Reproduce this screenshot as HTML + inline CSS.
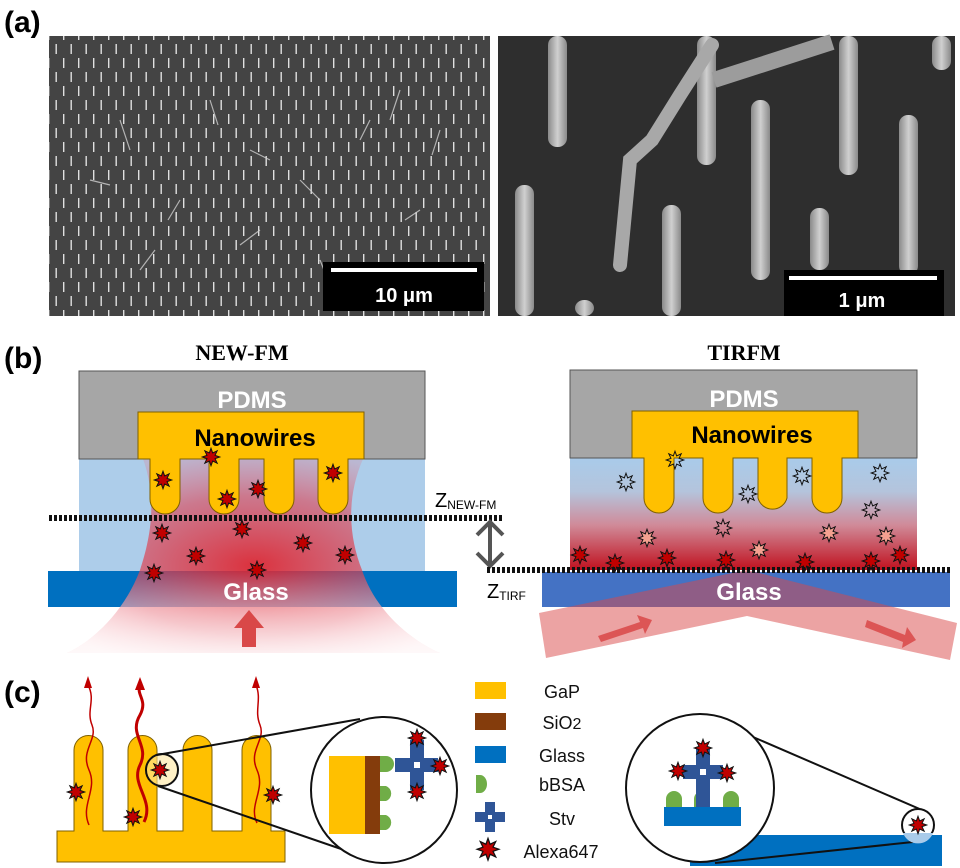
<!DOCTYPE html>
<html><head><meta charset="utf-8"><style>
html,body{margin:0;padding:0;background:#fff;}
svg{display:block;}
text{font-family:"Liberation Sans",sans-serif;}
</style></head><body>
<svg width="960" height="868" viewBox="0 0 960 868" xmlns="http://www.w3.org/2000/svg">
<defs>
<polygon id="st" transform="scale(1.25)" points="0,-7 1.34,-3.23 4.95,-4.95 3.23,-1.34 7,0 3.23,1.34 4.95,4.95 1.34,3.23 0,7 -1.34,3.23 -4.95,4.95 -3.23,1.34 -7,0 -3.23,-1.34 -4.95,-4.95 -1.34,-3.23" stroke="#111" stroke-width="0.8" stroke-linejoin="miter"/>
<pattern id="nw" width="15" height="28" patternUnits="userSpaceOnUse">
<rect width="15" height="28" fill="#444"/>
<rect x="3" y="2" width="1.4" height="10" fill="#e0e0e0"/>
<rect x="10.5" y="16" width="1.4" height="10" fill="#e0e0e0"/>
</pattern>
<linearGradient id="tirf" x1="0" y1="0" x2="0" y2="1">
<stop offset="0" stop-color="#a9cbea"/><stop offset="0.3" stop-color="#b4c4dc"/><stop offset="0.6" stop-color="#d08a98"/><stop offset="1" stop-color="#c0101e"/>
</linearGradient>
<radialGradient id="beam" cx="0.5" cy="0.55" r="0.6">
<stop offset="0" stop-color="#e0202a" stop-opacity="0.9"/><stop offset="0.6" stop-color="#e04050" stop-opacity="0.6"/><stop offset="1" stop-color="#f06070" stop-opacity="0.2"/>
</radialGradient>
<linearGradient id="beamfade" x1="0" y1="0" x2="0" y2="1">
<stop offset="0" stop-color="#fff" stop-opacity="0"/><stop offset="1" stop-color="#fff" stop-opacity="0.8"/>
</linearGradient>
<linearGradient id="pil" x1="0" y1="0" x2="1" y2="0">
<stop offset="0" stop-color="#8a8a8a"/><stop offset="0.5" stop-color="#d0d0d0"/><stop offset="1" stop-color="#8a8a8a"/>
</linearGradient>
</defs>

<!-- (a) -->
<text x="4" y="32" font-size="30" font-weight="bold">(a)</text>
<rect x="49" y="36" width="441" height="280" fill="url(#nw)"/>
<g stroke="#cfcfcf" stroke-width="1.2" fill="none" opacity="0.8">
<path d="M120 120 l10 30 M180 200 l-12 20 M250 150 l20 10 M320 260 l10 25 M400 90 l-10 30 M140 270 l15 -20 M300 180 l20 20 M420 210 l-15 10 M210 100 l8 25 M360 140 l10 -20 M90 180 l20 5 M440 130 l-8 25 M260 230 l-20 15"/>
</g>
<rect x="323" y="262" width="161" height="49" fill="#000"/>
<rect x="331" y="268" width="146" height="4" fill="#fff"/>
<text x="404" y="302" font-size="20" font-weight="bold" fill="#fff" text-anchor="middle">10 μm</text>

<rect x="498" y="36" width="457" height="280" fill="#2e2e2e"/>
<g fill="url(#pil)">
<rect x="548" y="36" width="19" height="111" rx="9"/>
<rect x="697" y="36" width="19" height="129" rx="9"/>
<rect x="839" y="36" width="19" height="139" rx="9"/>
<rect x="932" y="36" width="19" height="34" rx="9"/>
<rect x="751" y="100" width="19" height="180" rx="9"/>
<rect x="899" y="115" width="19" height="160" rx="9"/>
<rect x="515" y="185" width="19" height="131" rx="9"/>
<rect x="662" y="205" width="19" height="111" rx="9"/>
<rect x="810" y="208" width="19" height="62" rx="9"/>
<rect x="575" y="300" width="19" height="16" rx="9"/>
</g>
<path d="M712 45 L680 95 L652 140 L630 160 L620 265" stroke="#a8a8a8" stroke-width="14" fill="none" stroke-linecap="round"/>
<path d="M714 80 L832 42" stroke="#9c9c9c" stroke-width="16" fill="none"/>
<rect x="784" y="270" width="160" height="46" fill="#000"/>
<rect x="789" y="276" width="148" height="4" fill="#fff"/>
<text x="862" y="307" font-size="20" font-weight="bold" fill="#fff" text-anchor="middle">1 μm</text>

<!-- (b) -->
<text x="4" y="368" font-size="30" font-weight="bold">(b)</text>
<text x="242" y="360" style="font-family:'Liberation Serif',serif" font-size="22" font-weight="bold" text-anchor="middle">NEW-FM</text>
<text x="744" y="360" style="font-family:'Liberation Serif',serif" font-size="22" font-weight="bold" text-anchor="middle">TIRFM</text>

<!-- left -->
<rect x="79" y="458" width="346" height="113" fill="#adcdea"/>
<rect x="48" y="571" width="409" height="36" fill="#0070c0"/>
<path d="M143 459 C158 500 150 540 140 570 C125 610 95 640 67 653 L440 653 C410 640 375 610 362 570 C350 540 345 500 363 459 Z" fill="url(#beam)"/>
<path d="M140 570 C125 610 95 640 67 653 L440 653 C410 640 375 610 362 570 Z" fill="url(#beamfade)"/>
<rect x="79" y="371" width="346" height="88" fill="#a6a6a6" stroke="#555" stroke-width="1"/>
<path d="M138 412 H364 V459 H348 V499 A15 15 0 0 1 318 499 V459 H294 V499 A15 15 0 0 1 264 499 V459 H239 V499 A15 15 0 0 1 209 499 V459 H180 V499 A15 15 0 0 1 150 499 V459 H138 Z" fill="#ffc000" stroke="#7f6000" stroke-width="1"/>
<text x="252" y="408" font-size="24" font-weight="bold" fill="#fff" text-anchor="middle">PDMS</text>
<text x="255" y="446" font-size="24" font-weight="bold" fill="#000" text-anchor="middle">Nanowires</text>
<text x="256" y="600" font-size="24" font-weight="bold" fill="#fff" text-anchor="middle">Glass</text>
<path d="M242 647 V628 H234 L249 610 L264 628 H256 V647 Z" fill="#d94848"/>
<g fill="#c00000">
<use href="#st" x="163" y="480"/><use href="#st" x="211" y="457"/><use href="#st" x="227" y="499"/><use href="#st" x="258" y="489"/><use href="#st" x="333" y="473"/><use href="#st" x="162" y="533"/><use href="#st" x="242" y="529"/><use href="#st" x="303" y="543"/><use href="#st" x="345" y="555"/><use href="#st" x="196" y="556"/><use href="#st" x="154" y="573"/><use href="#st" x="257" y="570"/>
</g>
<line x1="49" y1="518" x2="503" y2="518" stroke="#111" stroke-width="6" stroke-dasharray="3 2"/>

<!-- middle -->
<text x="435" y="507" font-size="20">Z<tspan font-size="12" dy="2">NEW-FM</tspan></text>
<text x="487" y="598" font-size="20">Z<tspan font-size="12" dy="2">TIRF</tspan></text>
<g stroke="#555" stroke-width="4" fill="none">
<line x1="490" y1="522" x2="490" y2="566"/>
<polyline points="477,535 490,522 503,535"/>
<polyline points="477,553 490,566 503,553"/>
</g>

<!-- right -->
<rect x="570" y="458" width="347" height="112" fill="url(#tirf)"/>
<rect x="542" y="572" width="408" height="35" fill="#4472c4"/>
<polygon points="539,613 747,570 957,623 950,660 747,616 546,658" fill="#d94848" fill-opacity="0.5"/>
<path d="M598 636 L640 622 L637 615 L652 620 L645 634 L643 628 L601 642 Z" fill="#d94848" opacity="0.85"/>
<path d="M867 620 L905 635 L907 627 L916 640 L902 648 L903 642 L865 627 Z" fill="#d94848" opacity="0.85"/>
<rect x="570" y="370" width="347" height="88" fill="#a6a6a6" stroke="#555" stroke-width="1"/>
<path d="M632 411 H858 V458 H842 V498 A15 15 0 0 1 812 498 V458 H787 V498 A15 15 0 0 1 758 498 V458 H733 V498 A15 15 0 0 1 703 498 V458 H674 V498 A15 15 0 0 1 644 498 V458 H632 Z" fill="#ffc000" stroke="#7f6000" stroke-width="1"/>
<text x="744" y="407" font-size="24" font-weight="bold" fill="#fff" text-anchor="middle">PDMS</text>
<text x="752" y="443" font-size="24" font-weight="bold" fill="#000" text-anchor="middle">Nanowires</text>
<text x="749" y="600" font-size="24" font-weight="bold" fill="#fff" text-anchor="middle">Glass</text>
<g fill="none"><use href="#st" x="675" y="460"/><use href="#st" x="626" y="482"/><use href="#st" x="748" y="494"/><use href="#st" x="802" y="476"/><use href="#st" x="880" y="473"/><use href="#st" x="871" y="510"/><use href="#st" x="723" y="528"/></g>
<g fill="#f4a090"><use href="#st" x="647" y="538"/><use href="#st" x="759" y="550"/><use href="#st" x="829" y="533"/><use href="#st" x="886" y="536"/></g>
<g fill="#c00000"><use href="#st" x="580" y="555"/><use href="#st" x="615" y="563"/><use href="#st" x="667" y="558"/><use href="#st" x="726" y="560"/><use href="#st" x="805" y="562"/><use href="#st" x="871" y="561"/><use href="#st" x="900" y="555"/></g>
<line x1="487" y1="570" x2="950" y2="570" stroke="#111" stroke-width="6" stroke-dasharray="3 2"/>

<!-- (c) -->
<text x="4" y="702" font-size="30" font-weight="bold">(c)</text>
<path d="M57 831 H74 V750 A14.5 14.5 0 0 1 103 750 V831 H128 V750 A14.5 14.5 0 0 1 157 750 V831 H183 V750 A14.5 14.5 0 0 1 212 750 V831 H242 V750 A14.5 14.5 0 0 1 271 750 V831 H285 V862 H57 Z" fill="#ffc000" stroke="#7f6000" stroke-width="1"/>
<g stroke="#c00000" fill="none">
<path d="M89 825 C80 805 98 790 89 770 C80 750 98 740 92 725 C86 710 96 700 88 685" stroke-width="1.5"/>
<path d="M144 822 C155 800 130 785 140 765 C150 745 128 735 140 715 C148 700 136 695 140 686" stroke-width="3"/>
<path d="M257 823 C248 805 266 790 257 770 C248 750 266 740 260 725 C254 710 262 700 256 685" stroke-width="1.5"/>
</g>
<g fill="#c00000"><polygon points="88,676 84,688 92,688"/><polygon points="140,677 135,690 145,690"/><polygon points="256,676 252,688 260,688"/></g>
<g fill="#c00000"><use href="#st" x="76" y="792"/><use href="#st" x="133" y="817"/><use href="#st" x="273" y="795"/></g>
<circle cx="162" cy="770" r="16" fill="#ffe8a0" fill-opacity="0.6" stroke="#111" stroke-width="2"/>
<use href="#st" x="160" y="770" fill="#c00000"/>
<line x1="157" y1="755" x2="360" y2="719" stroke="#111" stroke-width="2"/>
<line x1="158" y1="786" x2="347" y2="851" stroke="#111" stroke-width="2"/>
<circle cx="384" cy="790" r="73" fill="#fff" stroke="#111" stroke-width="2"/>
<rect x="329" y="756" width="36" height="78" fill="#ffc000"/>
<rect x="365" y="756" width="15" height="78" fill="#843c0c"/>
<g fill="#70ad47"><path d="M380 756 h6 a8 8 0 0 1 0 16 h-6 Z"/><path d="M380 786 h6 a8 8 0 0 1 0 15 h-6 Z"/><path d="M380 815 h6 a8 8 0 0 1 0 15 h-6 Z"/></g>
<g fill="#2f5597"><rect x="410" y="740" width="14" height="50"/><rect x="395" y="758" width="43" height="14"/></g>
<rect x="414" y="762" width="6" height="6" fill="#fff"/>
<g fill="#c00000"><use href="#st" x="417" y="738"/><use href="#st" x="440" y="766"/><use href="#st" x="417" y="792"/></g>

<!-- legend -->
<rect x="475" y="682" width="31" height="17" fill="#ffc000"/>
<rect x="475" y="713" width="31" height="17" fill="#843c0c"/>
<rect x="475" y="746" width="31" height="17" fill="#0070c0"/>
<path d="M476 775 h4 a7 9 0 0 1 0 18 h-4 Z" fill="#70ad47"/>
<g fill="#2f5597"><rect x="485" y="802" width="10" height="30"/><rect x="475" y="812" width="30" height="10"/></g>
<rect x="488" y="815" width="4" height="4" fill="#fff"/>
<use href="#st" x="488" y="849" fill="#c00000" transform="translate(-122 -212) scale(1.25)"/>
<g font-size="18" text-anchor="middle" fill="#111">
<text x="562" y="698">GaP</text>
<text x="562" y="729">SiO<tspan font-size="16">2</tspan></text>
<text x="562" y="762">Glass</text>
<text x="562" y="791">bBSA</text>
<text x="562" y="825">Stv</text>
<text x="561" y="858">Alexa647</text>
</g>

<!-- right detail -->
<rect x="690" y="835" width="252" height="31" fill="#0070c0"/>
<line x1="753" y1="737" x2="922" y2="810" stroke="#111" stroke-width="2"/>
<line x1="715" y1="863" x2="913" y2="842" stroke="#111" stroke-width="2"/>
<circle cx="700" cy="788" r="74" fill="#fff" stroke="#111" stroke-width="2"/>
<rect x="664" y="807" width="77" height="19" fill="#0070c0"/>
<g fill="#70ad47"><path d="M666 807 v-8 a8 8 0 0 1 16 0 v8 Z"/><path d="M694 807 v-8 a8 8 0 0 1 16 0 v8 Z"/><path d="M723 807 v-8 a8 8 0 0 1 16 0 v8 Z"/></g>
<g fill="#2f5597"><rect x="696" y="748" width="14" height="59"/><rect x="683" y="765" width="40" height="14"/></g>
<rect x="700" y="769" width="6" height="6" fill="#fff"/>
<g fill="#c00000"><use href="#st" x="703" y="748"/><use href="#st" x="678" y="771"/><use href="#st" x="727" y="773"/></g>
<circle cx="918" cy="825" r="16" fill="#fff" stroke="#111" stroke-width="2"/>
<path d="M903 833 A16 16 0 0 0 933 833 Z" fill="#a9cbea"/>
<use href="#st" x="918" y="825" fill="#c00000"/>
</svg>
</body></html>
